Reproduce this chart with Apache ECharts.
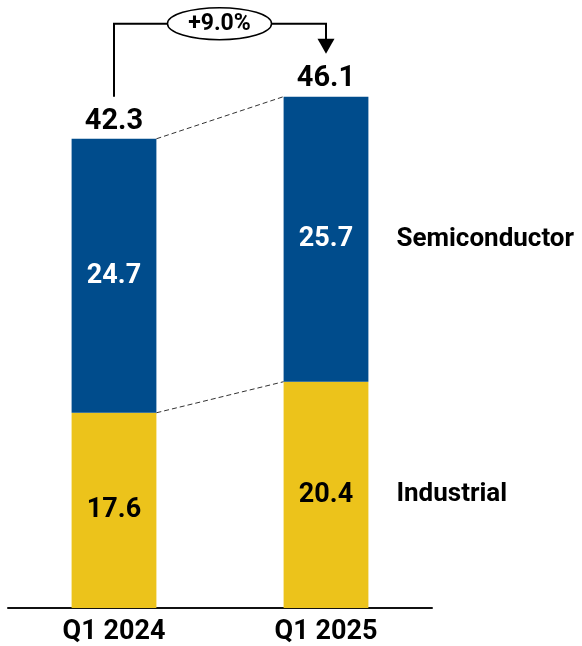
<!DOCTYPE html>
<html>
<head>
<meta charset="utf-8">
<script src="https://cdn.jsdelivr.net/npm/echarts@6/dist/echarts.min.js"></script>
<style>
  html, body { margin: 0; padding: 0; background: #fff; }
  #chart { width: 582px; height: 646px; }
</style>
</head>
<body>
<div id="chart"></div>
<script>
// Revenue by segment, Q1 2024 vs Q1 2025
const categories = ['Q1 2024', 'Q1 2025'];
const industrial = [17.6, 20.4];
const semiconductor = [24.7, 25.7];
const totals = [42.3, 46.1];
const segmentNames = ['Industrial', 'Semiconductor'];
const growthLabel = '+9.0%';

const BLUE = '#004c8c';
const YELLOW = '#ecc31b';
const FONT = 'Roboto, "Liberation Sans", sans-serif';
const BAR_RATIO = 0.4;

const chart = echarts.init(document.getElementById('chart'), null, { renderer: 'canvas' });

function halfBar(api) {
  return api.size([1, 0])[0] * BAR_RATIO / 2;
}

// dashed connectors between the bars: tops of stacks and segment boundaries
const connectorData = [
  [0, totals[0], 1, totals[1]],
  [0, industrial[0], 1, industrial[1]]
];

function renderConnector(params, api) {
  const hb = halfBar(api);
  const a = api.coord([api.value(0), api.value(1)]);
  const b = api.coord([api.value(2), api.value(3)]);
  return {
    type: 'line',
    shape: { x1: a[0] + hb, y1: a[1], x2: b[0] - hb, y2: b[1] },
    style: { stroke: '#333', lineWidth: 1, lineDash: [5, 3] },
    silent: true
  };
}

// totals above each stack
function renderTotal(params, api) {
  const p = api.coord([api.value(0), api.value(1)]);
  return {
    type: 'text',
    x: p[0], y: p[1] - 3,
    style: {
      text: api.value(1).toFixed(1),
      fill: '#000', font: 'bold 29px ' + FONT,
      align: 'center', verticalAlign: 'bottom'
    },
    silent: true
  };
}

// segment names to the right of the last bar
const sideData = [
  [1, industrial[1] / 2, 0],
  [1, industrial[1] + semiconductor[1] / 2, 1]
];
function renderSide(params, api) {
  const hb = halfBar(api);
  const p = api.coord([api.value(0), api.value(1)]);
  return {
    type: 'text',
    x: p[0] + hb + 28, y: p[1],
    style: {
      text: segmentNames[api.value(2)],
      fill: '#000', font: 'bold 26px ' + FONT,
      align: 'left', verticalAlign: 'middle'
    },
    silent: true
  };
}

// growth bracket from first total to second total
function renderGrowth(params, api) {
  const a = api.coord([0, totals[0]]);
  const b = api.coord([1, totals[1]]);
  const yTop = Math.min(a[1], b[1]) - 73;
  const yLeftEnd = a[1] - 42;
  const yTip = b[1] - 43;
  const cx = (a[0] + b[0]) / 2 - 0.5;
  const rx = 52, ry = 16;
  const stroke = { stroke: '#000', lineWidth: 2, fill: null };
  return {
    type: 'group',
    silent: true,
    children: [
      { type: 'polyline', shape: { points: [[a[0], yLeftEnd], [a[0], yTop], [cx - rx, yTop]] }, style: stroke },
      { type: 'polyline', shape: { points: [[cx + rx, yTop], [b[0], yTop], [b[0], yTip - 14]] }, style: stroke },
      { type: 'polygon', shape: { points: [[b[0] - 8.5, yTip - 15], [b[0] + 8.5, yTip - 15], [b[0], yTip]] }, style: { fill: '#000' } },
      { type: 'ellipse', shape: { cx: cx, cy: yTop, rx: rx, ry: ry }, style: { stroke: '#000', lineWidth: 1.5, fill: '#fff' } },
      {
        type: 'text', x: cx, y: yTop + 1,
        style: { text: growthLabel, fill: '#000', font: 'bold 23px ' + FONT, align: 'center', verticalAlign: 'middle' }
      }
    ]
  };
}

const option = {
  animation: false,
  backgroundColor: '#fff',
  grid: { left: 8, right: 150, top: 9, bottom: 37 },
  xAxis: {
    type: 'category',
    data: categories,
    axisTick: { show: false },
    axisLine: { lineStyle: { color: '#111', width: 2 } },
    axisLabel: { color: '#000', fontSize: 27, fontWeight: 'bold', fontFamily: FONT, margin: 11 }
  },
  yAxis: {
    type: 'value', min: 0, max: 54,
    show: false, splitLine: { show: false }
  },
  series: [
    {
      name: segmentNames[0], type: 'bar', stack: 'total', barWidth: BAR_RATIO * 100 + '%',
      data: industrial,
      itemStyle: { color: YELLOW },
      label: { show: true, position: 'inside', color: '#000', fontSize: 27, fontWeight: 'bold', fontFamily: FONT,
        formatter: p => p.value.toFixed(1) }
    },
    {
      name: segmentNames[1], type: 'bar', stack: 'total',
      data: semiconductor,
      itemStyle: { color: BLUE },
      label: { show: true, position: 'inside', color: '#fff', fontSize: 27, fontWeight: 'bold', fontFamily: FONT,
        formatter: p => p.value.toFixed(1) }
    },
    { type: 'custom', renderItem: renderConnector, data: connectorData, z: 5, silent: true },
    { type: 'custom', renderItem: renderTotal, data: categories.map((c, i) => [i, totals[i]]), z: 5, silent: true },
    { type: 'custom', renderItem: renderSide, data: sideData, z: 5, silent: true },
    { type: 'custom', renderItem: renderGrowth, data: [[0, totals[0]]], z: 6, silent: true, clip: false }
  ]
};

chart.setOption(option);
</script>
</body>
</html>
